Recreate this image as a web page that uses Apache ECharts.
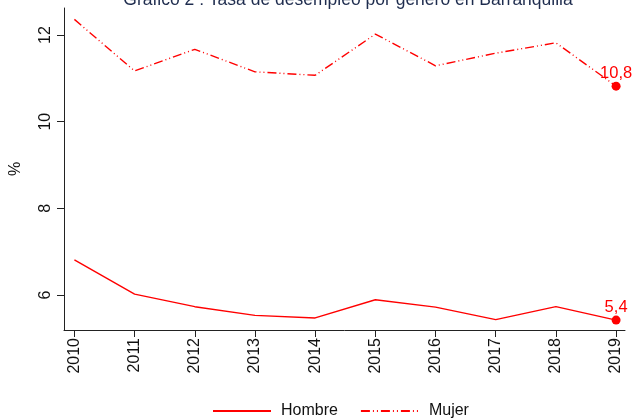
<!DOCTYPE html>
<html>
<head>
<meta charset="utf-8">
<script src="https://cdn.jsdelivr.net/npm/echarts@6/dist/echarts.min.js"></script>
<style>
  html, body { margin: 0; padding: 0; background: #fff; }
  #chart { width: 635px; height: 419px; }
</style>
</head>
<body>
<div id="chart"></div>
<script>
const years = [2010, 2011, 2012, 2013, 2014, 2015, 2016, 2017, 2018, 2019];
const hombre = [6.81, 6.02, 5.73, 5.53, 5.47, 5.89, 5.72, 5.43, 5.73, 5.42];
const mujer = [12.36, 11.17, 11.67, 11.15, 11.07, 12.02, 11.29, 11.58, 11.82, 10.82];
const lastLabels = { Hombre: '5,4', Mujer: '10,8' };
const yTicks = [6, 8, 10, 12];

const font = 'Liberation Sans, Arial, sans-serif';
const red = '#ff0000';

// only the last point gets a dot and a value label
function toData(values, name) {
    return values.map((v, i) => {
        if (i < values.length - 1) return [years[i], v];
        return {
            value: [years[i], v],
            symbol: 'circle',
            symbolSize: 9,
            label: {
                show: true,
                position: 'top',
                distance: 0,
                formatter: lastLabels[name],
                color: red,
                fontSize: 16.5,
                fontFamily: font
            }
        };
    });
}

const myChart = echarts.init(document.getElementById('chart'));

const option = {
    animation: false,
    title: {
        text: 'Gráfico 2 : Tasa de desempleo por género en Barranquilla',
        left: 343,
        textAlign: 'center',
        top: -14,
        textStyle: { color: '#1e2c4e', fontSize: 17.5, fontWeight: 'normal', fontFamily: font }
    },
    grid: { left: 59, right: 10, top: 8, bottom: 89 },
    legend: {
        left: 212,
        top: 403,
        padding: 0,
        itemWidth: 58,
        itemHeight: 12,
        itemGap: 22,
        itemStyle: { opacity: 0 },
        textStyle: { color: '#111', fontSize: 16, fontFamily: font, padding: [0, 0, 0, 5] },
        data: ['Hombre', 'Mujer']
    },
    xAxis: {
        type: 'value',
        min: 2009.827,
        max: 2019.148,
        splitLine: { show: false },
        axisLine: { lineStyle: { color: '#222', width: 1 } },
        axisTick: { show: true, length: 7, customValues: years, lineStyle: { color: '#222' } },
        axisLabel: {
            customValues: years,
            formatter: v => String(v),
            rotate: 90,
            margin: 8,
            color: '#111',
            fontSize: 16,
            fontFamily: font
        }
    },
    yAxis: {
        type: 'value',
        min: 5.192,
        max: 12.623,
        name: '%',
        nameLocation: 'middle',
        nameGap: 40,
        nameRotate: 90,
        nameTextStyle: { color: '#111', fontSize: 16, fontFamily: font },
        splitLine: { show: false },
        axisLine: { show: true, lineStyle: { color: '#222', width: 1 } },
        axisTick: { show: true, length: 7, customValues: yTicks, lineStyle: { color: '#222' } },
        axisLabel: {
            customValues: yTicks,
            rotate: 90,
            margin: 10,
            color: '#111',
            fontSize: 16,
            fontFamily: font
        }
    },
    series: [
        {
            name: 'Hombre',
            type: 'line',
            symbol: 'none',
            color: red,
            lineStyle: { color: red, width: 1.4, type: 'solid' },
            data: toData(hombre, 'Hombre')
        },
        {
            name: 'Mujer',
            type: 'line',
            symbol: 'none',
            color: red,
            lineStyle: { color: red, width: 1.4, type: [9, 3, 1, 3, 1, 3] },
            data: toData(mujer, 'Mujer')
        }
    ]
};

myChart.setOption(option);
</script>
</body>
</html>
